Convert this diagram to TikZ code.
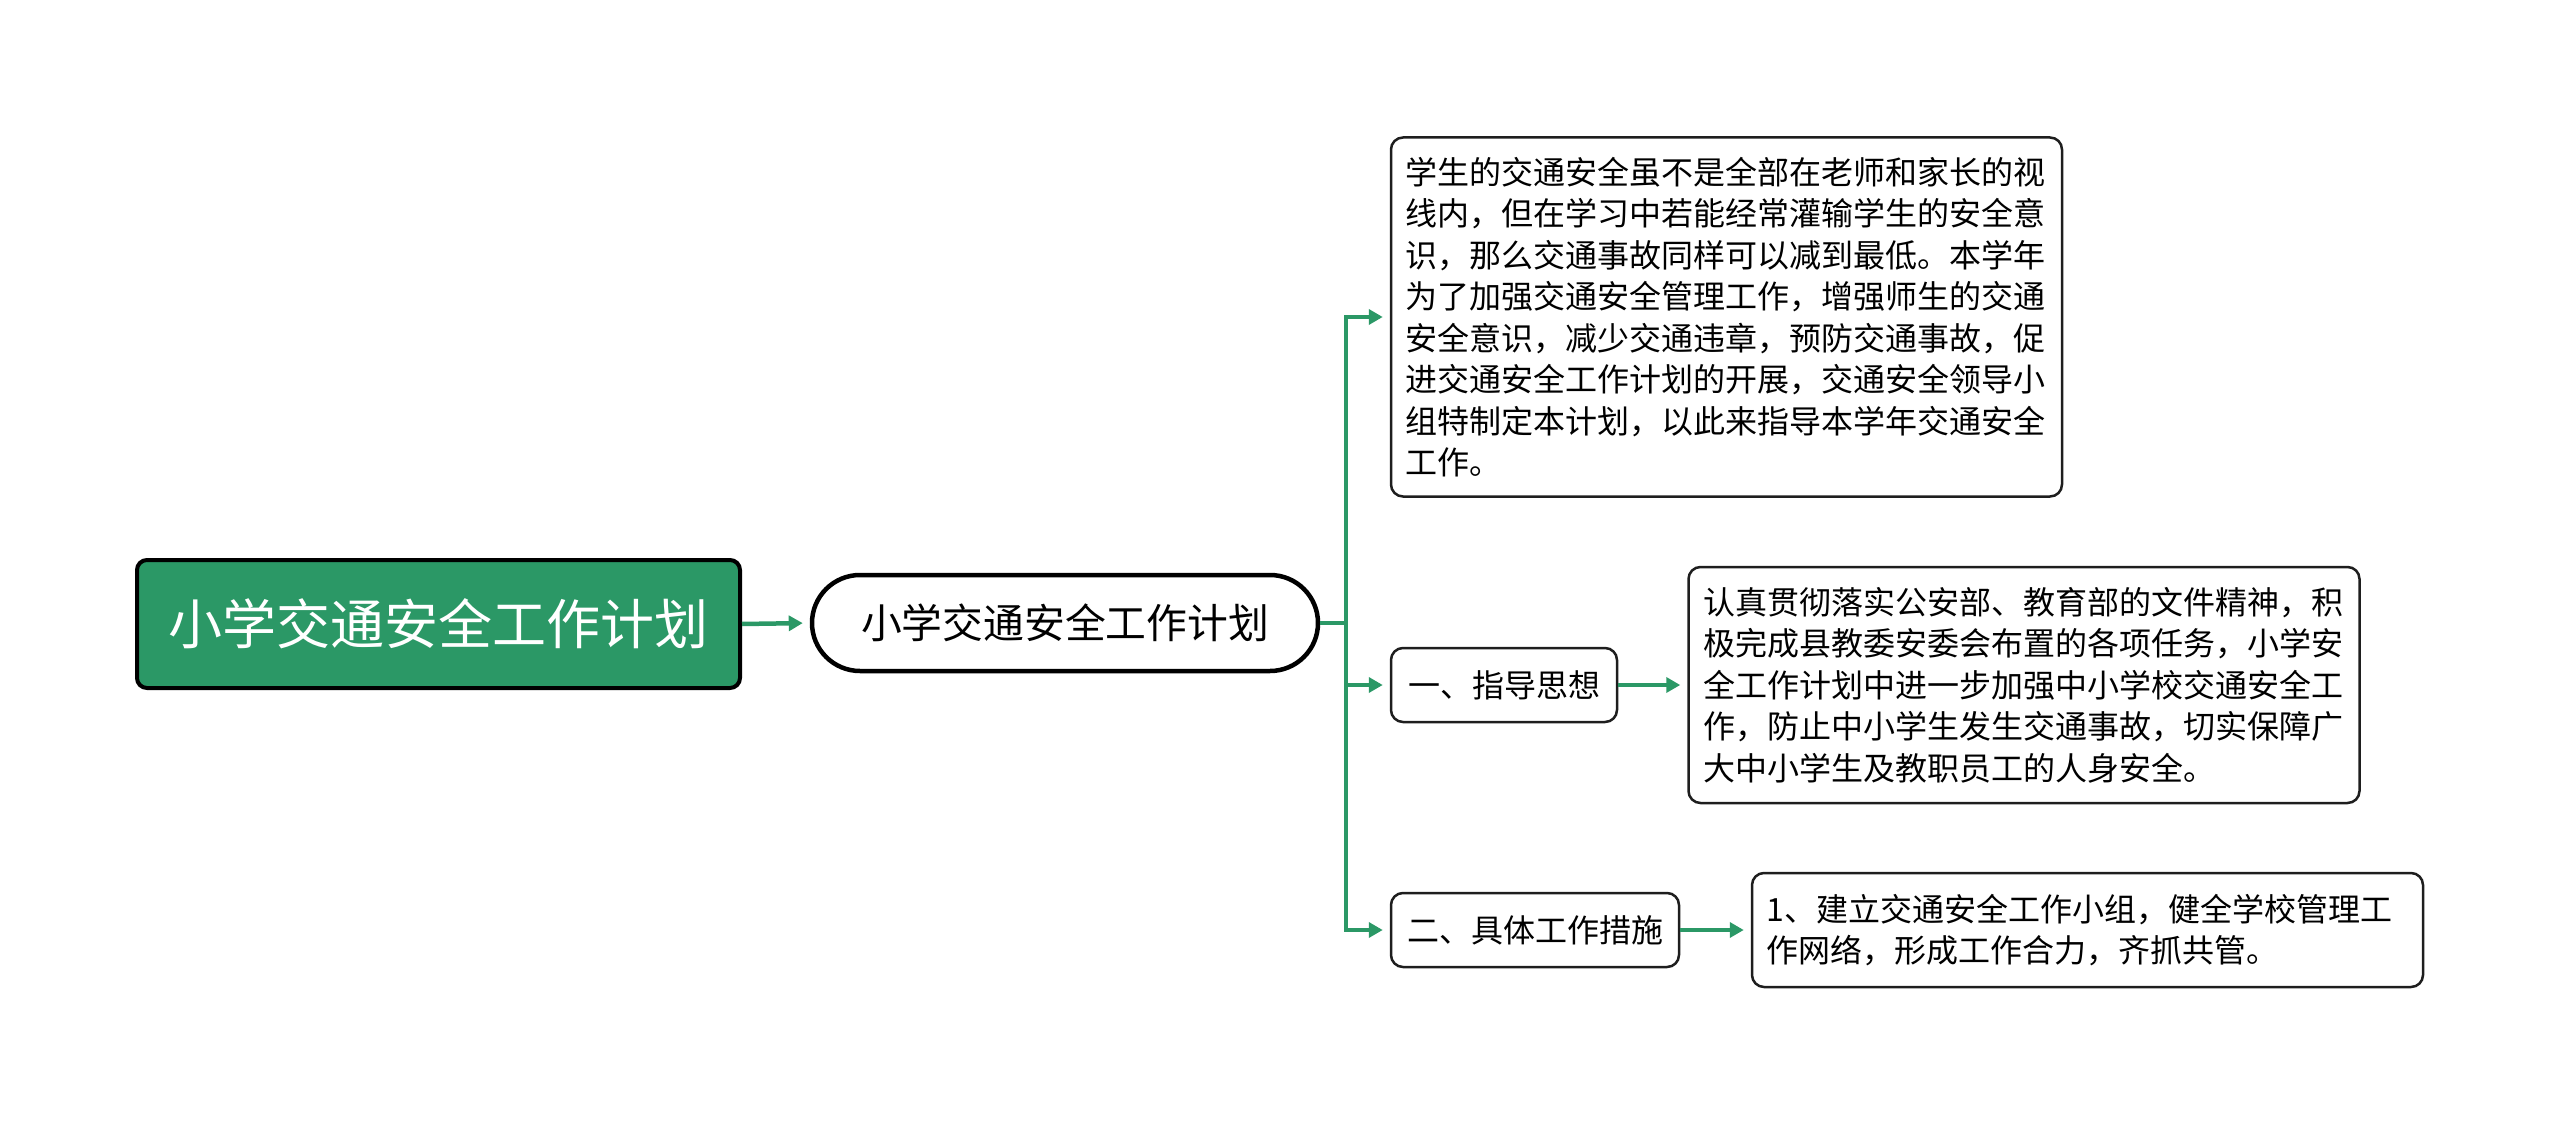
\documentclass[tikz,border=0pt]{standalone}
\usepackage{fontspec}
\setmainfont{Noto Sans CJK SC}
\usetikzlibrary{arrows.meta}
\definecolor{mgreen}{RGB}{43,152,102}
\definecolor{bord}{RGB}{30,30,30}
\begin{document}
\begin{tikzpicture}[x=1pt,y=-1pt,
 rootbox/.style={draw=black, line width=4pt, fill=mgreen, rounded corners=10pt, text=white, font=\fontsize{54}{60}\selectfont, minimum width=603pt, minimum height=128pt, inner sep=0pt},
 mainbox/.style={draw=black, line width=4.5pt, fill=white, rounded corners=48pt, font=\fontsize{40.8}{48}\selectfont, minimum width=506pt, minimum height=96pt, inner sep=0pt},
 subbox/.style={draw=bord, line width=2.5pt, rounded corners=12pt, font=\fontsize{32}{41.5}\selectfont, inner xsep=0pt, inner ysep=0pt, minimum height=74pt},
 textbox/.style={draw=bord, line width=2.5pt, rounded corners=12pt, font=\fontsize{32}{41.5}\selectfont, text width=642pt, align=left, inner xsep=14.5pt, inner ysep=0pt},
 link/.style={draw=mgreen, line width=4.5pt, -{Triangle[length=14pt,width=15pt]}, shorten >=7pt}
]
\useasboundingbox (0,0) rectangle (2560,1123);
\node[rootbox] (root) at (438.5,624) {小学交通安全工作计划};
\node[mainbox] (main) at (1065,623) {小学交通安全工作计划};
\node[textbox, minimum height=359pt] (b1) at (1726.5,317) {学生的交通安全虽不是全部在老师和家长的视\\线内，但在学习中若能经常灌输学生的安全意\\识，那么交通事故同样可以减到最低。本学年\\为了加强交通安全管理工作，增强师生的交通\\安全意识，减少交通违章，预防交通事故，促\\进交通安全工作计划的开展，交通安全领导小\\组特制定本计划，以此来指导本学年交通安全\\工作。};
\node[subbox, minimum width=226pt] (b2) at (1504,685) {一、指导思想};
\node[textbox, minimum height=236pt] (b3) at (2024,685) {认真贯彻落实公安部、教育部的文件精神，积\\极完成县教委安委会布置的各项任务，小学安\\全工作计划中进一步加强中小学校交通安全工\\作，防止中小学生发生交通事故，切实保障广\\大中小学生及教职员工的人身安全。};
\node[subbox, minimum width=288pt] (b4) at (1535,930) {二、具体工作措施};
\node[textbox, minimum height=114pt] (b5) at (2087.5,930) {1、建立交通安全工作小组，健全学校管理工\\作网络，形成工作合力，齐抓共管。};
\coordinate (bus) at (1346,623);
\draw[link] (root.east) -- (main.west);
\draw[link] (main.east) -- (bus) |- (b1.west);
\draw[link] (main.east) -- (bus) |- (b2.west);
\draw[link] (main.east) -- (bus) |- (b4.west);
\draw[link] (b2.east) -- (b3.west);
\draw[link] (b4.east) -- (b5.west);
\end{tikzpicture}
\end{document}
